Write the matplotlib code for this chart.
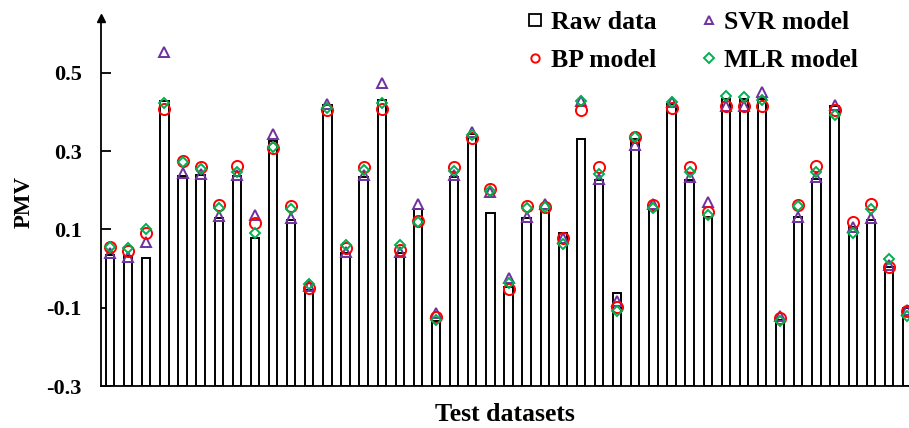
import matplotlib
matplotlib.use("Agg")
import matplotlib.pyplot as plt
from matplotlib.lines import Line2D
import numpy as np

raw = [0.035, 0.031, 0.028, 0.427, 0.236, 0.238, 0.128, 0.236, 0.077, 0.327,
       0.124, -0.054, 0.419, 0.039, 0.234, 0.431, 0.041, 0.153, -0.135, 0.234,
       0.344, 0.141, -0.046, 0.128, 0.153, 0.090, 0.331, 0.225, -0.063, 0.331,
       0.149, 0.420, 0.225, 0.132, 0.433, 0.433, 0.433, -0.131, 0.132, 0.230,
       0.416, 0.107, 0.124, 0.005, -0.101]
svr = [0.041, 0.030, 0.067, 0.554, 0.244, 0.242, 0.134, 0.240, 0.136, 0.344,
       0.130, -0.044, 0.420, 0.043, 0.238, 0.475, 0.043, 0.164, -0.114, 0.240,
       0.348, 0.195, -0.025, 0.132, 0.164, 0.077, 0.429, 0.228, -0.084, 0.316,
       0.164, 0.425, 0.234, 0.170, 0.416, 0.416, 0.450, -0.122, 0.132, 0.234,
       0.418, 0.107, 0.128, 0.009, -0.107]
bp = [0.054, 0.046, 0.092, 0.407, 0.276, 0.259, 0.162, 0.261, 0.117, 0.308,
      0.159, -0.050, 0.405, 0.052, 0.259, 0.407, 0.047, 0.122, -0.125, 0.259,
      0.334, 0.202, -0.051, 0.159, 0.158, 0.077, 0.405, 0.259, -0.099, 0.337,
      0.162, 0.409, 0.259, 0.145, 0.414, 0.414, 0.414, -0.127, 0.162, 0.261,
      0.406, 0.120, 0.164, 0.005, -0.108]
mlr = [0.054, 0.052, 0.100, 0.422, 0.271, 0.255, 0.155, 0.247, 0.090, 0.310,
       0.152, -0.039, 0.410, 0.059, 0.251, 0.424, 0.060, 0.120, -0.131, 0.249,
       0.342, 0.198, -0.036, 0.154, 0.158, 0.062, 0.429, 0.242, -0.109, 0.336,
       0.155, 0.425, 0.247, 0.138, 0.440, 0.438, 0.431, -0.133, 0.160, 0.247,
       0.392, 0.090, 0.151, 0.024, -0.120]
yticks = [-0.3, -0.1, 0.1, 0.3, 0.5]
ytick_labels = ["-0.3", "-0.1", "0.1", "0.3", "0.5"]

plt.rcParams['font.family'] = ['Liberation Serif', 'DejaVu Serif']
plt.rcParams['font.weight'] = 'bold'

fig = plt.figure(figsize=(9.09, 4.28), dpi=100)
ax = fig.add_axes([101/909, 1-386/428, 1-101/909, (386-18)/428])

ymin, ymax = -0.3, 0.64
x = np.arange(1, len(raw) + 1)
heights = np.array(raw) - ymin
ax.bar(x, heights, bottom=ymin, width=0.46, facecolor='white',
       edgecolor='black', linewidth=1.4, zorder=2)

purple = '#7030A0'
red = '#FF0000'
green = '#00B050'
ax.plot(x, svr, linestyle='none', marker='^', markersize=7.5, mfc='none',
        mec=purple, mew=1.4, zorder=3)
ax.plot(x, bp, linestyle='none', marker='o', markersize=8, mfc='none',
        mec=red, mew=1.4, zorder=4)
ax.plot(x, mlr, linestyle='none', marker='D', markersize=5.5, mfc='none',
        mec=green, mew=1.4, zorder=5)

ax.set_xlim(0.5, len(raw) + 0.11)
ax.set_ylim(ymin, ymax)
ax.set_yticks(yticks)
ax.set_yticklabels(ytick_labels, fontsize=16, fontweight='bold')
ax.set_xticks([])
ax.tick_params(axis='y', direction='in', length=7, width=1.3, pad=14)
for s in ['top', 'right']:
    ax.spines[s].set_visible(False)
for s in ['left', 'bottom']:
    ax.spines[s].set_linewidth(1.3)
ax.plot([0], [1.0], marker='^', color='black', markersize=6,
        transform=ax.transAxes, clip_on=False, zorder=6)

ax.set_xlabel('Test datasets', fontsize=18.5, fontweight='bold', labelpad=12)
ax.set_ylabel('PMV', fontsize=16.5, fontweight='bold', labelpad=8)

handles = [
    Line2D([], [], linestyle='none', marker='s', markersize=8, mfc='none', mec='black', mew=1.3),
    Line2D([], [], linestyle='none', marker='o', markersize=6, mfc='none', mec=red, mew=1.4),
    Line2D([], [], linestyle='none', marker='^', markersize=6, mfc='none', mec=purple, mew=1.4),
    Line2D([], [], linestyle='none', marker='D', markersize=5, mfc='none', mec=green, mew=1.4),
]
labels = ['Raw data', 'BP model', 'SVR model', 'MLR model']
fig.legend(handles, labels, ncol=2, loc='upper left',
           bbox_to_anchor=(525/909, 1 - 11/428), frameon=False,
           prop={'family': 'Liberation Serif', 'weight': 'bold', 'size': 18.5},
           handlelength=0.8, handletextpad=0.2, columnspacing=1.65,
           labelspacing=0.58, borderaxespad=0.0, borderpad=0.0)

fig.savefig('out.png', dpi=100)
